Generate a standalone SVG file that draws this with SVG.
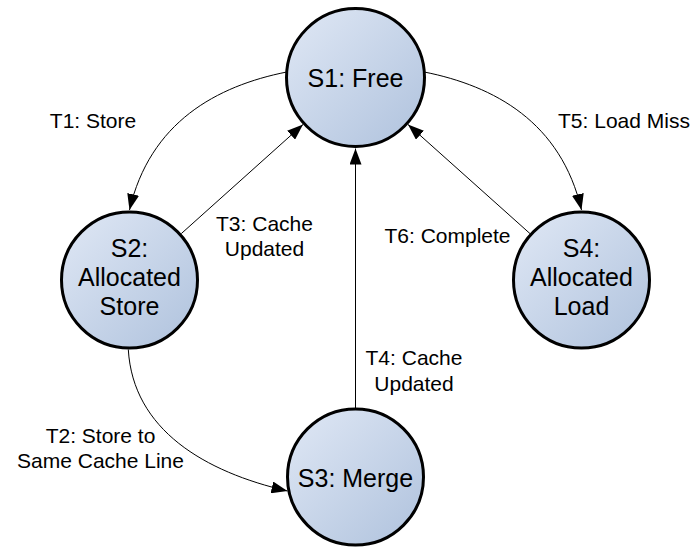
<svg xmlns="http://www.w3.org/2000/svg" width="695" height="548" viewBox="0 0 695 548">
<style>
.node{stroke:#000;stroke-width:3;fill:url(#g)}
.nt{font-family:"Liberation Sans",Arial,sans-serif;font-size:25px;fill:#000;text-anchor:middle}
.lt{font-family:"Liberation Sans",Arial,sans-serif;font-size:21px;fill:#000;text-anchor:middle}
.c{fill:none;stroke:#000;stroke-width:1;marker-end:url(#arr)}
</style>
<defs>
<linearGradient id="g" x1="0" y1="0" x2="1" y2="1">
<stop offset="0" stop-color="#e0e8f5"/>
<stop offset="1" stop-color="#afc2dd"/>
</linearGradient>
<marker id="arr" markerUnits="userSpaceOnUse" markerWidth="16" markerHeight="12" refX="16" refY="6" orient="auto">
<path d="M0,0 L16,6 L0,12 z" fill="#000"/>
</marker>
</defs>
<rect width="695" height="548" fill="#fff"/>
<g id="connectors">
<path class="c" d="M286.7,72 C216.7,86 150,122 129.5,210"/>
<path class="c" d="M424.3,72 C494.3,86 561,122 581.5,210"/>
<path class="c" d="M181.3,233.6 L303,124.5"/>
<path class="c" d="M530,233.6 L408,124.5"/>
<path class="c" d="M355.5,409 L355.5,148.5"/>
<path class="c" d="M128.3,349.5 C133,430 205,472 287.5,491"/>
</g>
<g id="labels">
<text class="lt" x="93" y="128">T1: Store</text>
<text class="lt" x="624" y="128">T5: Load Miss</text>
<text class="lt" x="264.5" y="231">T3: Cache</text>
<text class="lt" x="264.5" y="256">Updated</text>
<text class="lt" x="447.5" y="243">T6: Complete</text>
<text class="lt" x="414" y="365">T4: Cache</text>
<text class="lt" x="414" y="391">Updated</text>
<text class="lt" x="100.5" y="443">T2: Store to</text>
<text class="lt" x="100.5" y="468">Same Cache Line</text>
</g>
<g id="s1">
<circle class="node" cx="355.5" cy="77.5" r="69"/>
<text class="nt" x="355.5" y="87">S1: Free</text>
</g>
<g id="s2">
<circle class="node" cx="129.5" cy="280" r="68"/>
<text class="nt" x="129.5" y="257">S2:</text>
<text class="nt" x="129.5" y="286">Allocated</text>
<text class="nt" x="129.5" y="315">Store</text>
</g>
<g id="s4">
<circle class="node" cx="581.5" cy="280" r="68"/>
<text class="nt" x="581.5" y="257">S4:</text>
<text class="nt" x="581.5" y="286">Allocated</text>
<text class="nt" x="581.5" y="315">Load</text>
</g>
<g id="s3">
<circle class="node" cx="355.5" cy="477" r="68"/>
<text class="nt" x="355.5" y="487">S3: Merge</text>
</g>
</svg>
